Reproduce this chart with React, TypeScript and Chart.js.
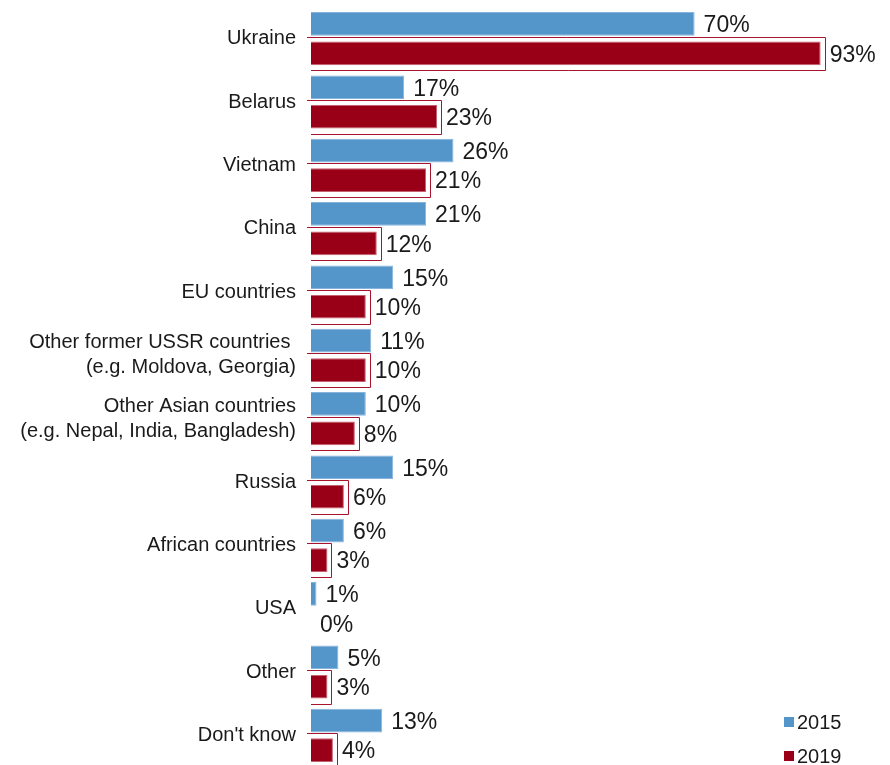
import React, { useEffect, useRef } from "react";
import { Chart, registerables } from "chart.js";

Chart.register(...registerables);

const categories: (string | string[])[] = [
  "Ukraine",
  "Belarus",
  "Vietnam",
  "China",
  "EU countries",
  ["Other former USSR countries ", "(e.g. Moldova, Georgia)"],
  ["Other Asian countries", "(e.g. Nepal, India, Bangladesh)"],
  "Russia",
  "African countries",
  "USA",
  "Other",
  "Don't know",
];
const values2015 = [70, 17, 26, 21, 15, 11, 10, 15, 6, 1, 5, 13];
const values2019 = [93, 23, 21, 12, 10, 10, 8, 6, 3, 0, 3, 4];
const seriesNames = ["2015", "2019"];
const BLUE = "#5596CA";
const RED = "#990017";
const TEXT = "#1a1a1a";
const FONT = "'Liberation Sans', Arial, sans-serif";

const decorPlugin = {
  id: "decor",
  afterDatasetsDraw(chart: any) {
    const ctx = chart.ctx;
    ctx.save();
    // outline around 2019 bars
    const m1 = chart.getDatasetMeta(1);
    ctx.strokeStyle = "#A8142C";
    ctx.lineWidth = 1;
    m1.data.forEach((bar: any, i: number) => {
      if (!values2019[i]) return;
      const h = bar.height;
      const top = Math.round(bar.y - h / 2 - 5) + 0.5;
      const bot = Math.round(bar.y + h / 2 + 5) + 0.5;
      const right = Math.round(bar.x + 4) + 0.5;
      ctx.beginPath();
      ctx.moveTo(bar.base - 4, top);
      ctx.lineTo(right, top);
      ctx.lineTo(right, bot);
      ctx.lineTo(bar.base, bot);
      ctx.stroke();
    });
    // value labels
    ctx.fillStyle = TEXT;
    ctx.font = `23px ${FONT}`;
    ctx.textAlign = "left";
    ctx.textBaseline = "middle";
    [0, 1].forEach((di) => {
      const meta = chart.getDatasetMeta(di);
      const vals = di === 0 ? values2015 : values2019;
      meta.data.forEach((bar: any, i: number) => {
        ctx.fillText(vals[i] + "%", bar.x + 9, bar.y + 2);
      });
    });
    // legend
    ctx.font = `20px ${FONT}`;
    const items = [
      { c: BLUE, t: seriesNames[0], y: 717 },
      { c: RED, t: seriesNames[1], y: 751 },
    ];
    items.forEach((it) => {
      ctx.fillStyle = it.c;
      ctx.fillRect(784, it.y, 10, 10);
      ctx.fillStyle = TEXT;
      ctx.textBaseline = "middle";
      ctx.fillText(it.t, 797, it.y + 6);
    });
    ctx.restore();
  },
};

export default function App() {
  const ref = useRef<HTMLCanvasElement | null>(null);
  useEffect(() => {
    if (!ref.current) return;
    const chart = new Chart(ref.current, {
      type: "bar",
      data: {
        labels: categories as any,
        datasets: [
          {
            label: seriesNames[0],
            data: values2015,
            backgroundColor: BLUE,
            borderColor: "#86B4DC",
            borderWidth: 1,
            categoryPercentage: 0.934,
            barPercentage: 0.8,
          },
          {
            label: seriesNames[1],
            data: values2019,
            backgroundColor: RED,
            borderColor: "#C46070",
            borderWidth: 1,
            categoryPercentage: 0.934,
            barPercentage: 0.8,
          },
        ],
      },
      options: {
        indexAxis: "y",
        animation: false,
        responsive: false,
        maintainAspectRatio: false,
        layout: { padding: { top: 7, bottom: 3, left: 0, right: 31 } },
        plugins: { legend: { display: false }, tooltip: { enabled: false } },
        scales: {
          x: { display: false, min: 0, max: 100 },
          y: {
            grid: { display: false, drawTicks: false },
            border: { display: false },
            ticks: {
              color: TEXT,
              padding: 15,
              font: { family: FONT, size: 20, lineHeight: 1.25 },
              autoSkip: false,
            },
            afterFit: (scale: any) => {
              scale.width = 311;
              scale.paddingTop = 0;
              scale.paddingBottom = 0;
            },
          },
        },
      },
      plugins: [decorPlugin],
    });
    return () => chart.destroy();
  }, []);
  return (
    <div style={{ position: "fixed", left: 0, top: 0, width: 890, height: 770, background: "#fff" }}>
      <canvas ref={ref} width={890} height={770} style={{ display: "block" }} />
    </div>
  );
}
